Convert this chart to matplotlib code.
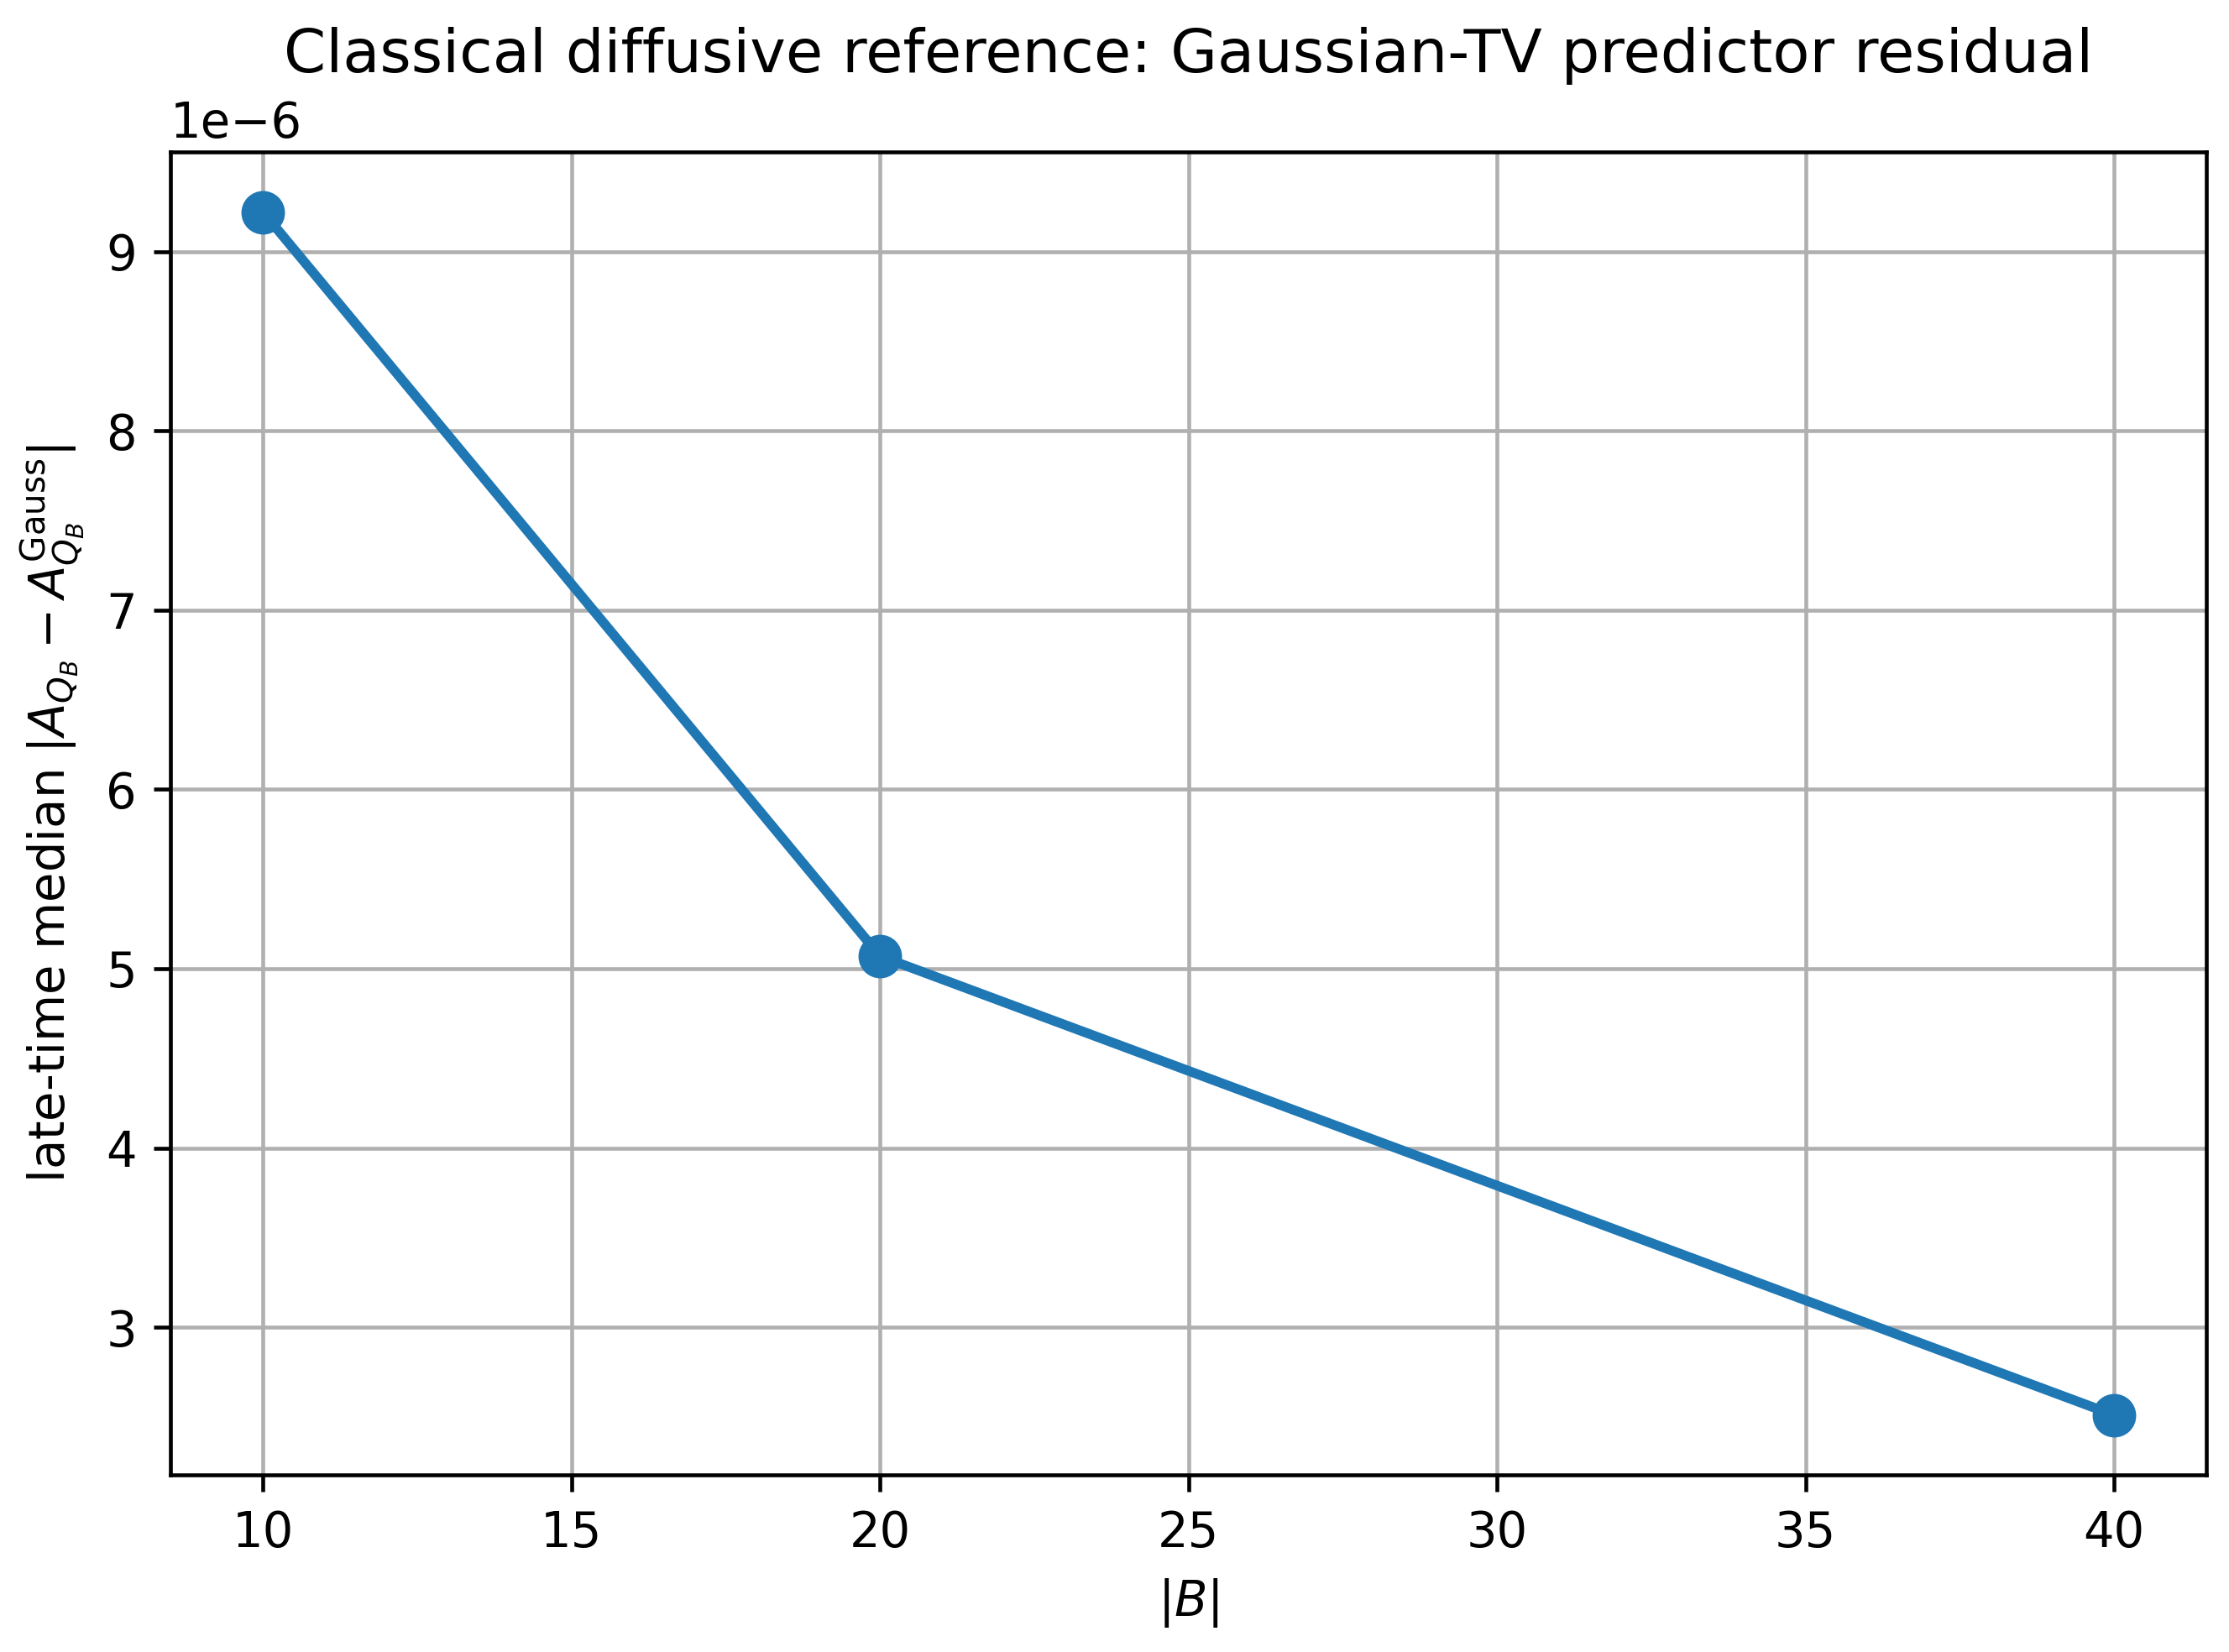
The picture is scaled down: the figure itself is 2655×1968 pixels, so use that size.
import matplotlib
matplotlib.use('Agg')
import matplotlib.pyplot as plt

B = [10, 20, 40]
residual = [9.22e-6, 5.07e-6, 2.51e-6]

dpi = 415
fig = plt.figure(figsize=(2655 / dpi, 1968 / dpi), dpi=dpi)
ax = fig.add_axes([0.0765, 0.107, 0.9135, 0.801])

ax.plot(B, residual, marker='o', linewidth=2, markersize=8, color='#1f77b4')
ax.grid(True)
ax.set_xlabel(r'$|B|$')
ax.set_ylabel(r'late-time median $|A_{Q_B} - A_{Q_B}^{\rm Gauss}|$')
ax.set_title('Classical diffusive reference: Gaussian-TV predictor residual',
             fontsize=12.5, pad=16.5)

fig.savefig('out.png', dpi=dpi)
